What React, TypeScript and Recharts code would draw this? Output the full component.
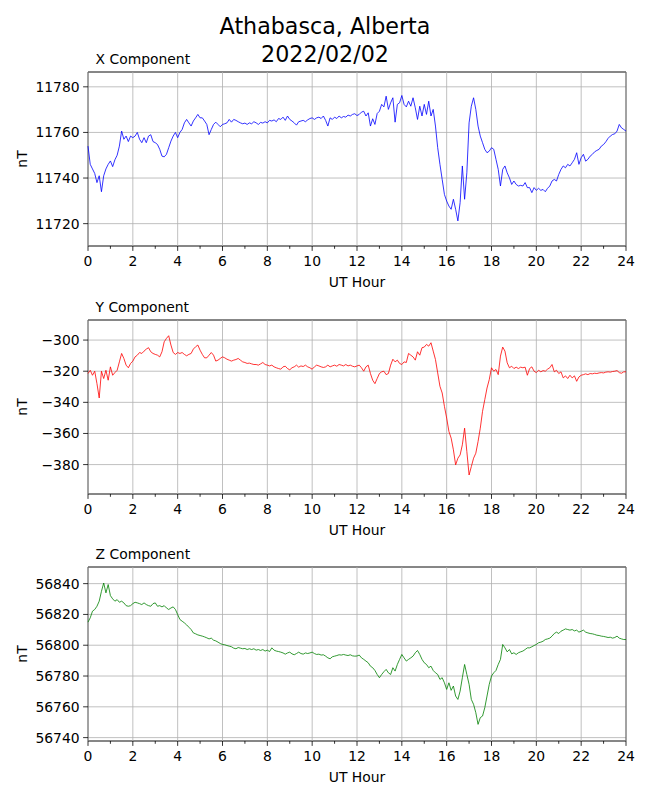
import {
  CartesianGrid,
  Line,
  LineChart,
  ReferenceArea,
  ReferenceLine,
  XAxis,
  YAxis,
} from "recharts";

// one sample every 0.1 h
const HOURS = Array.from({ length: 241 }, (_, i) => i / 10);

const X_NT = [
  11754, 11746, 11744, 11742, 11738, 11741, 11734, 11741, 11744, 11746,
  11747.5, 11745, 11748, 11750, 11754, 11760.6, 11757, 11758.4, 11756, 11758.4,
  11757.7, 11758.4, 11760, 11757, 11755.5, 11757.7, 11755.5, 11758.4, 11759, 11756,
  11755.5, 11754.7, 11752.6, 11749.6, 11749.3, 11750.4, 11753.3, 11756.2, 11758.4, 11760,
  11757.7, 11760, 11761.3, 11764.2, 11765.7, 11764.2, 11762.8, 11765, 11766.4, 11767.9,
  11766.4, 11766.4, 11765, 11763.5, 11759, 11761.3, 11763.5, 11764.5, 11763.5, 11762.5,
  11763.5, 11763.8, 11764.2, 11765.7, 11764.5, 11765.7, 11765.3, 11764.7, 11764.2, 11763.8,
  11764.1, 11763.5, 11764.2, 11763.8, 11764.7, 11764.2, 11763.5, 11764.4, 11764.1, 11764.7,
  11764.2, 11765.3, 11765, 11765.5, 11764.7, 11766.1, 11765.7, 11766.7, 11765.3, 11767.2,
  11765.7, 11765, 11764.2, 11763.2, 11764.7, 11765, 11765.3, 11764.7, 11765.5, 11766.1,
  11766.4, 11765.7, 11766.4, 11766.7, 11766.1, 11767.2, 11765.3, 11762.8, 11766.4, 11765.7,
  11766.7, 11766.1, 11767.2, 11766.4, 11767, 11766.7, 11767.6, 11767.2, 11767.9, 11768.2,
  11767.4, 11767.9, 11768.9, 11769.3, 11767.2, 11768.6, 11762.8, 11766, 11763.5, 11768.3,
  11769.3, 11772.3, 11771.2, 11775.9, 11770.1, 11773, 11775.2, 11764.5, 11772.3, 11773,
  11776.2, 11772.3, 11771.2, 11773.7, 11771.5, 11775.2, 11770.8, 11765.7, 11771.5, 11767.2,
  11772.3, 11767.9, 11773.7, 11767.2, 11770.1, 11762.8, 11753.3, 11746, 11739.4, 11732.8,
  11729.9, 11727.7, 11726.3, 11730.7, 11726.3, 11721.2, 11729.2, 11745.3, 11730.7, 11742.3,
  11764.2, 11771.5, 11775.2, 11770.1, 11762.8, 11758.4, 11755.5, 11752.6, 11751.1, 11751.8,
  11753.3, 11752.6, 11748.2, 11743.8, 11736.5, 11743.8, 11745.3, 11742.3, 11740.1, 11737.2,
  11738.7, 11737.2, 11736.5, 11736.8, 11736.5, 11738, 11735.8, 11735.8, 11733.6, 11735.8,
  11734.6, 11735.5, 11734.6, 11735, 11734, 11735.5, 11736.5, 11738.7, 11739.4, 11738.7,
  11741.6, 11743.8, 11745.3, 11744.5, 11746, 11745.3, 11746.7, 11748.2, 11751.1, 11746,
  11748.9, 11750.4, 11747.4, 11748.2, 11749.6, 11750.4, 11751.5, 11752.1, 11752.6, 11754,
  11754.7, 11755.9, 11757.4, 11758.4, 11759.1, 11759.4, 11760.6, 11763.5, 11762, 11761.3,
  11760.6,
];

const Y_NT = [
  -321.5, -319.4, -322.6, -320, -328, -337.2, -320, -324.7, -319.4, -325.8,
  -317.2, -322.6, -320.9, -319.4, -314, -308.6, -311.8, -316.1, -317.8, -315,
  -313.5, -310.8, -309.7, -308, -308.6, -307.1, -305.8, -304.9, -307.5, -308.6,
  -309.2, -309.7, -310.8, -307.5, -301.1, -298.9, -297.2, -303.2, -308, -309.2,
  -308, -308.6, -308, -309.2, -310.1, -309.2, -308.6, -305.8, -304.3, -303.2,
  -306.5, -309.2, -311.4, -311.4, -309.7, -308, -309.7, -313.5, -312.9, -311.8,
  -310.8, -311.4, -312.3, -312.9, -313.5, -312.9, -312.5, -311.8, -312.9, -314,
  -314.4, -315, -314.8, -315.3, -315.7, -315.7, -316.1, -315.3, -314.4, -315.7,
  -316.1, -316.6, -316.1, -317.2, -317.8, -318.3, -318.7, -317.2, -316.8, -318.3,
  -319.1, -317.8, -317.2, -316.1, -317.4, -316.6, -317, -316.1, -317.2, -317.8,
  -318.7, -317.2, -316.1, -316.6, -317.2, -317.6, -317.2, -316.1, -317.2, -316.6,
  -316.1, -316.8, -315.7, -316.1, -316.6, -315.7, -316.6, -316.1, -316.8, -317.2,
  -316.6, -316.1, -317.8, -320, -317.2, -316.1, -321.5, -325.8, -328, -324.7,
  -321.5, -320.4, -320, -322.2, -321.5, -316.1, -312.3, -314, -312.9, -315,
  -315.7, -314, -314.4, -308.6, -309.7, -310.8, -312.9, -307.5, -309.7, -304.9,
  -304.5, -302.8, -303.9, -301.7, -307.1, -312.5, -321.1, -329.7, -334, -342.6,
  -350.1, -358.7, -363, -370.5, -380.2, -375.9, -373.8, -367.3, -356.6, -371.6,
  -386.7, -381.3, -375.9, -372.7, -365.2, -356.6, -345.8, -338.3, -330.8, -325.4,
  -317.8, -320, -318.9, -322.2, -310.3, -304.5, -307.1, -314.6, -317.8, -316.8,
  -318.3, -317.4, -318.3, -317.4, -317.8, -317.4, -322.6, -318.3, -317.2, -320,
  -320.9, -319.4, -320.4, -319.6, -320, -318.7, -317.8, -315.7, -320.4, -319.4,
  -321.5, -320.4, -324.3, -323, -324.7, -322.6, -324.3, -323, -326.5, -323.7,
  -322.6, -322.2, -321.7, -322.2, -321.5, -321.7, -321.3, -321.5, -321.1, -320.9,
  -321.1, -320.6, -320.4, -320.6, -320.2, -320, -319.6, -320.9, -321.3, -320.4,
  -320.4,
];

const Z_NT = [
  56815, 56817.8, 56822.1, 56823.2, 56825.3, 56828.6, 56835, 56840.4, 56834, 56839.4,
  56832.2, 56830.1, 56828.6, 56829.6, 56827.9, 56828.6, 56827.5, 56825.7, 56825.3, 56825.7,
  56827, 56827.9, 56827.5, 56827, 56826.4, 56827.5, 56826.4, 56825.7, 56825.3, 56827,
  56827.5, 56825.3, 56825.7, 56824.9, 56825.7, 56824.2, 56823.2, 56824.2, 56824.9, 56823.2,
  56819.9, 56816.7, 56815.6, 56814.5, 56813.2, 56811.7, 56810.2, 56808, 56807.4, 56806.7,
  56806.3, 56805.9, 56805.4, 56804.8, 56804.1, 56804.6, 56803.3, 56802.8, 56802, 56801.1,
  56800.5, 56800.3, 56799.8, 56799.4, 56799, 56798.1, 56797.7, 56798.5, 56798.1, 56797.7,
  56797.9, 56797.2, 56797.7, 56797.2, 56797.7, 56796.8, 56797.2, 56796.6, 56797.2, 56796.2,
  56796.8, 56795.9, 56798.3, 56796.8, 56796.2, 56795.9, 56795.5, 56795, 56794.2, 56795,
  56795.5, 56794.4, 56793.8, 56794.6, 56795.5, 56794.6, 56794.2, 56795, 56794.6, 56795,
  56795.5, 56794.6, 56794, 56794.2, 56793.6, 56793.8, 56792.9, 56791.8, 56791.2, 56792.5,
  56792.9, 56793.3, 56793.8, 56793.6, 56794, 56793.6, 56793.3, 56793.8, 56793.1, 56792.9,
  56793, 56793.6, 56791.8, 56790.8, 56789.7, 56788.6, 56786.4, 56785.4, 56783.6, 56781,
  56778.9, 56781, 56782.8, 56784.3, 56782.1, 56781, 56785.4, 56783.2, 56787.5, 56790.8,
  56794, 56791.8, 56789.7, 56790.8, 56791.8, 56792.9, 56795.1, 56796.6, 56794, 56790.8,
  56788.6, 56787.5, 56785.4, 56786.4, 56783.6, 56782.1, 56781, 56777.8, 56778.9, 56775.6,
  56771.3, 56775.6, 56770.7, 56773.5, 56767, 56764.8, 56770.2, 56778.9, 56787.5, 56781,
  56774.6, 56764.8, 56761.6, 56756.2, 56748.6, 56753, 56754, 56759.4, 56767, 56774.6,
  56780, 56782.1, 56783.6, 56787.5, 56790.8, 56800.5, 56798.3, 56795.7, 56797.2, 56794.4,
  56795.1, 56794, 56795.1, 56795.7, 56796.2, 56797.2, 56798.3, 56798.3, 56799, 56799.8,
  56800.5, 56801.6, 56802, 56802.6, 56803.7, 56804.1, 56804.6, 56805.9, 56807.6, 56808.5,
  56807.6, 56809.1, 56809.8, 56810.6, 56810.2, 56809.8, 56810.2, 56809.3, 56809.8, 56808.5,
  56809.1, 56809.8, 56808.5, 56808, 56807.6, 56807.4, 56807, 56806.5, 56806.3, 56805.9,
  56805.7, 56805.4, 56805, 56805.2, 56804.6, 56805, 56805.9, 56804.6, 56804.1, 56803.7,
  56803.7,
];

const HOUR_TICKS = [0, 1, 2, 3, 4, 5, 6, 7, 8, 9, 10, 11, 12, 13, 14, 15, 16, 17, 18, 19, 20, 21, 22, 23, 24];
const GRID_HOURS = [0, 2, 4, 6, 8, 10, 12, 14, 16, 18, 20, 22, 24];
const X_TICKS = [11720, 11740, 11760, 11780];
const Y_TICKS = [-380, -360, -340, -320, -300];
const Z_TICKS = [56740, 56760, 56780, 56800, 56820, 56840];

const FONT = "'DejaVu Sans', sans-serif";
const TICK_FS = 13.9;

const xRows = HOURS.map((h, i) => ({ h, v: X_NT[i] }));
const yRows = HOURS.map((h, i) => ({ h, v: Y_NT[i] }));
const zRows = HOURS.map((h, i) => ({ h, v: Z_NT[i] }));

const fmt = (v: number) => (v < 0 ? "\u2212" + Math.abs(v) : String(v));

const HourTick = (props: any) => {
  const { x, y, payload } = props;
  const major = payload.value % 2 === 0;
  return (
    <g>
      <line x1={x} x2={x} y1={y} y2={y + (major ? 4.9 : 2.8)} stroke="#000" strokeWidth={0.8} />
      {major && (
        <text x={x} y={y + 20.3} textAnchor="middle" fontSize={TICK_FS} fill="#000">
          {payload.value}
        </text>
      )}
    </g>
  );
};

type PanelProps = {
  rows: { h: number; v: number }[];
  color: string;
  domain: [number, number];
  ticks: number[];
  top: number;
};

const Panel = ({ rows, color, domain, ticks, top }: PanelProps) => (
  <div style={{ position: "absolute", left: 0, top }}>
    <LineChart width={650} height={254} data={rows} margin={{ top: 30, right: 24, bottom: 0, left: 0 }}>
      <CartesianGrid vertical={false} stroke="#b0b0b0" strokeWidth={0.8} />
      {GRID_HOURS.map((g) => (
        <ReferenceLine key={g} x={g} stroke="#b0b0b0" strokeWidth={0.8} />
      ))}
      <XAxis
        dataKey="h"
        type="number"
        domain={[0, 24]}
        ticks={HOUR_TICKS}
        interval={0}
        axisLine={false}
        tickLine={false}
        tickSize={0}
        tickMargin={0}
        tick={<HourTick />}
        height={50}
        label={{ value: "UT Hour", position: "insideBottom", offset: 9.5, fill: "#000", fontSize: TICK_FS }}
      />
      <YAxis
        type="number"
        domain={domain}
        ticks={ticks}
        interval={0}
        width={88}
        axisLine={false}
        tickLine={{ stroke: "#000", strokeWidth: 0.8 }}
        tickSize={4.9}
        tickMargin={3.5}
        tickFormatter={fmt}
        tick={{ fill: "#000", fontSize: TICK_FS }}
        label={{
          value: "nT",
          angle: -90,
          position: "insideLeft",
          offset: 22,
          fill: "#000",
          fontSize: TICK_FS,
          style: { textAnchor: "middle" },
        }}
      />
      <Line
        type="linear"
        dataKey="v"
        stroke={color}
        strokeWidth={0.8}
        dot={false}
        activeDot={false}
        isAnimationActive={false}
      />
      <ReferenceArea
        x1={0}
        x2={24}
        y1={domain[0]}
        y2={domain[1]}
        stroke="#000"
        strokeWidth={0.8}
        fill="none"
        fillOpacity={0}
      />
    </LineChart>
  </div>
);

export default function App() {
  return (
    <div
      style={{
        position: "absolute",
        left: 0,
        top: 0,
        width: 650,
        height: 800,
        background: "#fff",
        fontFamily: FONT,
      }}
    >
      <svg width={650} height={800} style={{ position: "absolute", left: 0, top: 0 }}>
        <text x={325} y={34} textAnchor="middle" fontSize={22.2} fill="#000">
          Athabasca, Alberta
        </text>
        <text x={325} y={61.6} textAnchor="middle" fontSize={22.2} fill="#000">
          2022/02/02
        </text>
        <text x={95.5} y={64.3} fontSize={TICK_FS} fill="#000">X Component</text>
        <text x={95.5} y={311.8} fontSize={TICK_FS} fill="#000">Y Component</text>
        <text x={95.5} y={559.3} fontSize={TICK_FS} fill="#000">Z Component</text>
      </svg>
      <Panel rows={xRows} color="#0000ff" domain={[11710.2, 11786.5]} ticks={X_TICKS} top={42.3} />
      <Panel rows={yRows} color="#ff0000" domain={[-398.9, -287.1]} ticks={Y_TICKS} top={290.3} />
      <Panel rows={zRows} color="#008000" domain={[56737.8, 56850.8]} ticks={Z_TICKS} top={537.3} />
    </div>
  );
}
